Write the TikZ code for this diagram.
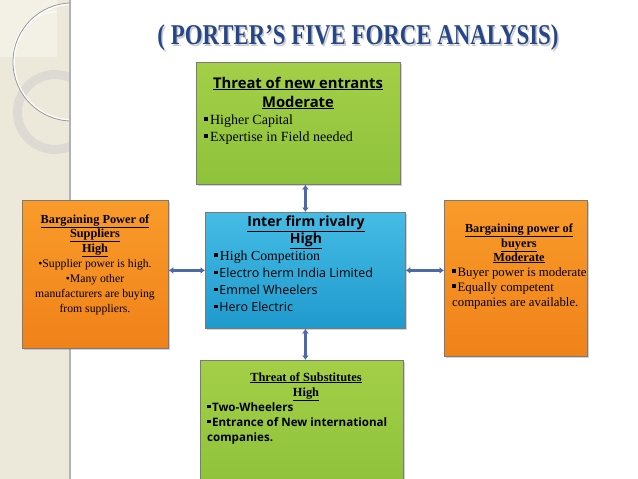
\documentclass[tikz,border=0pt]{standalone}
\usepackage{fontspec}
\usepackage{graphicx}
\setmainfont{Liberation Serif}
\newfontfamily\sansf{Open Sans}
\usetikzlibrary{arrows.meta,shadows}
\definecolor{titlec}{HTML}{27468A}
\definecolor{gtop}{HTML}{A3CF47}
\definecolor{gbot}{HTML}{8FC23C}
\definecolor{btop}{HTML}{45BCE6}
\definecolor{bbot}{HTML}{1F9ACD}
\definecolor{otop}{HTML}{F99B2A}
\definecolor{obot}{HTML}{F0821A}
\definecolor{arrowc}{HTML}{4A6BA6}
\definecolor{sidec}{HTML}{EDE9DA}
\definecolor{boxline}{HTML}{7A7A7A}
\newcommand\sqb{\rule[0.22em]{0.3em}{0.3em}\hspace{0.12em}}
\tikzset{
  boxbase/.style={draw=boxline, line width=0.8pt, anchor=north west, inner sep=0pt,
    drop shadow={shadow xshift=1.5pt, shadow yshift=-1.5pt, opacity=0.35}},
  greenbox/.style={boxbase, top color=gtop, bottom color=gbot},
  bluebox/.style={boxbase, top color=btop, bottom color=bbot},
  orangebox/.style={boxbase, top color=otop, bottom color=obot},
  dblarrow/.style={draw=arrowc, line width=2.4pt, {Latex[length=4.5pt,width=7pt]}-{Latex[length=4.5pt,width=7pt]}},
  ln/.style={inner sep=0pt, anchor=base},
  lnw/.style={inner sep=0pt, anchor=base west},
}
\begin{document}
\begin{tikzpicture}[x=1pt,y=-1pt]
\useasboundingbox (0,0) rectangle (638,479);
\fill[white] (0,0) rectangle (638,479);
% side strip
\fill[sidec] (0,0) rectangle (70,479);
\begin{scope}
  \clip (0,0) rectangle (70,479);
  \fill[white,opacity=0.35] (0,0) rectangle (57,57);
  \draw[white,line width=0.8pt] (13,56) arc[start angle=180,end angle=270,radius=44];
  \fill[gray!40,opacity=0.5,even odd rule] (55,112) circle[radius=42] (55,112) circle[radius=33];
  \draw[white,line width=1.6pt] (72,62) circle[radius=58];
  \draw[gray!80,line width=0.8pt] (72,62) circle[radius=59];
\end{scope}
\draw[gray!60,line width=1.5pt] (70,0) -- (70,479);
% title
\node[text=gray!40] (titleshadow) at (359.5,39.5) {\resizebox*{401pt}{26pt}{\bfseries ( PORTER’S FIVE FORCE ANALYSIS)}};
\node[text=titlec] (title) at (358,38) {\resizebox*{401pt}{26pt}{\bfseries ( PORTER’S FIVE FORCE ANALYSIS)}};
% boxes
\node[greenbox, minimum width=204pt, minimum height=122pt] (top) at (196,62) {};
\node[bluebox, minimum width=200pt, minimum height=116pt] (mid) at (205,212) {};
\node[orangebox, minimum width=146pt, minimum height=148pt] (left) at (22,200) {};
\node[orangebox, minimum width=143pt, minimum height=156pt] (right) at (444,200) {};
\node[greenbox, minimum width=203pt, minimum height=125pt] (bot) at (200,360) {};
% connectors
\draw[dblarrow] (mid.north) -- (mid.north |- top.south);
\draw[dblarrow] (mid.south) -- (mid.south |- bot.north);
\draw[dblarrow] (mid.west) -- (mid.west -| left.east);
\draw[dblarrow] (mid.east) -- (mid.east -| right.west);
% top box text
\node[ln, font=\sansf\bfseries\fontsize{14.8}{16}\selectfont] (t1) at (298,88) {\underline{Threat of new entrants}};
\node[ln, font=\sansf\bfseries\fontsize{14.8}{16}\selectfont] (t2) at (298,107) {\underline{Moderate}};
\node[lnw, font=\fontsize{14}{15}\selectfont] (t3) at (204,124) {\sqb Higher Capital};
\node[lnw, font=\fontsize{14}{15}\selectfont] (t4) at (204,141) {\sqb Expertise in Field needed};
% middle box text
\node[ln, font=\sansf\bfseries\fontsize{14}{15}\selectfont] (m1) at (306,226) {\underline{Inter firm rivalry}};
\node[ln, font=\sansf\bfseries\fontsize{14}{15}\selectfont] (m2) at (306,243) {\underline{High}};
\node[lnw, font=\fontsize{13.8}{15}\selectfont] (m3) at (214,260) {\sqb High Competition};
\node[lnw, font=\sansf\fontsize{12.5}{14}\selectfont] (m4) at (214,277) {\sqb Electro herm India Limited};
\node[lnw, font=\sansf\fontsize{12.5}{14}\selectfont] (m5) at (214,294) {\sqb Emmel Wheelers};
\node[lnw, font=\sansf\fontsize{12.5}{14}\selectfont] (m6) at (214,311) {\sqb Hero Electric};
% left box text
\node[ln, font=\bfseries\fontsize{12.3}{13}\selectfont] (l1) at (95,223) {\underline{Bargaining Power of}};
\node[ln, font=\bfseries\fontsize{12.3}{13}\selectfont] (l2) at (95,237) {\underline{Suppliers}};
\node[ln, font=\bfseries\fontsize{12.3}{13}\selectfont] (l3) at (95,252) {\underline{High}};
\node[ln, font=\fontsize{11.7}{13}\selectfont] (l4) at (95,267) {•Supplier power is high.};
\node[ln, font=\fontsize{11.7}{13}\selectfont] (l5) at (95,282) {•Many other};
\node[ln, font=\fontsize{11.7}{13}\selectfont] (l6) at (95,297) {manufacturers are buying};
\node[ln, font=\fontsize{11.7}{13}\selectfont] (l7) at (95,312) {from suppliers.};
% right box text
\node[ln, font=\bfseries\fontsize{12.3}{13}\selectfont] (r1) at (519,232) {\underline{Bargaining power of}};
\node[ln, font=\bfseries\fontsize{12.3}{13}\selectfont] (r2) at (519,247) {\underline{buyers}};
\node[ln, font=\bfseries\fontsize{12.3}{13}\selectfont] (r3) at (519,261) {\underline{Moderate}};
\node[lnw, font=\fontsize{12.8}{13}\selectfont] (r4) at (452,276) {\sqb Buyer power is moderate};
\node[lnw, font=\fontsize{12.8}{13}\selectfont] (r5) at (452,291) {\sqb Equally competent};
\node[lnw, font=\fontsize{12.8}{13}\selectfont] (r6) at (452,306) {companies are available.};
% bottom box text
\node[ln, font=\bfseries\fontsize{12.4}{13}\selectfont] (b1) at (306,381) {\underline{Threat of Substitutes}};
\node[ln, font=\bfseries\fontsize{12.4}{13}\selectfont] (b2) at (306,396) {\underline{High}};
\node[lnw, font=\sansf\bfseries\fontsize{11.6}{13}\selectfont] (b3) at (207,411) {\sqb Two-Wheelers};
\node[lnw, font=\sansf\bfseries\fontsize{11.6}{13}\selectfont] (b4) at (207,426) {\sqb Entrance of New international};
\node[lnw, font=\sansf\bfseries\fontsize{11.6}{13}\selectfont] (b5) at (207,441) {companies.};
\end{tikzpicture}
\end{document}
